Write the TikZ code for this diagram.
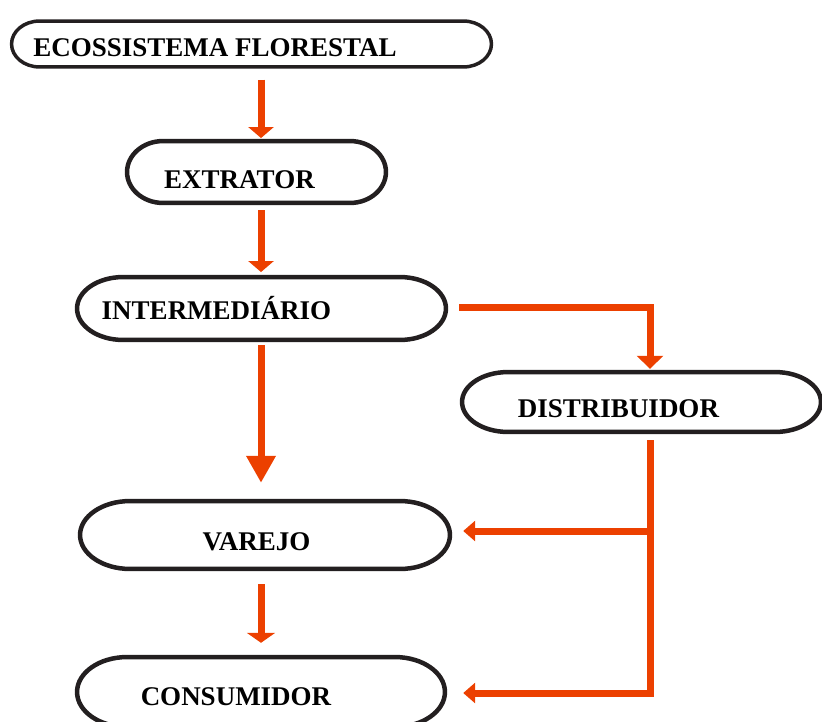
\documentclass[tikz,border=0pt]{standalone}
\usepackage{fontspec}
\setmainfont{Liberation Serif}
\usetikzlibrary{arrows.meta,calc}
\definecolor{flowc}{RGB}{236,64,0}
\definecolor{outc}{RGB}{35,31,32}
\tikzset{
  shapebox/.style={draw=none,inner sep=0pt,rectangle},
  label/.style={inner sep=0pt,anchor=base,font=\bfseries\fontsize{27}{27}\selectfont},
  outl/.style={draw=outc,line width=4.5pt,line join=round},
  flow/.style={draw=flowc,line width=7pt,line cap=butt,line join=miter},
  headS/.style={-{Triangle[length=11pt,width=25pt]}},
  headL/.style={-{Triangle[length=27pt,width=28pt]}},
}
\newcommand\capsuleoutline[3][]{%
  \draw[outl,#1] let \p1=(#2.north west), \p2=(#2.south east) in
   (\x1+#3pt,\y1) -- (\x2-#3pt,\y1)
   arc[start angle=90,end angle=-90,x radius=#3pt,y radius={(\y1-\y2)/2}]
   -- (\x1+#3pt,\y2)
   arc[start angle=270,end angle=90,x radius=#3pt,y radius={(\y1-\y2)/2}] -- cycle;}
\begin{document}
\begin{tikzpicture}[x=1pt,y=1pt]
\useasboundingbox (0,0) rectangle (822,-721);
% shape nodes
\node[shapebox,minimum width=479.5pt,minimum height=45.5pt] (eco) at (251.5,-44) {};
\node[shapebox,minimum width=258.5pt,minimum height=61.5pt] (ext) at (256.5,-172) {};
\node[shapebox,minimum width=368.5pt,minimum height=62.5pt] (int) at (261.5,-308.5) {};
\node[shapebox,minimum width=358.5pt,minimum height=59.5pt] (dis) at (641.5,-402) {};
\node[shapebox,minimum width=369.5pt,minimum height=67.5pt] (var) at (265,-535) {};
\node[shapebox,minimum width=367.5pt,minimum height=69.5pt] (con) at (261,-692) {};
% outlines
\capsuleoutline[line width=3.5pt]{eco}{28}
\capsuleoutline{ext}{36}
\capsuleoutline{int}{46}
\capsuleoutline{dis}{46}
\capsuleoutline{var}{50}
\capsuleoutline{con}{50}
% labels
\node[label] (t1) at (215,-56) {ECOSSISTEMA FLORESTAL};
\node[label] (t2) at (239.5,-188) {EXTRATOR};
\node[label] (t3) at (216.5,-319) {INTERMEDIÁRIO};
\node[label] (t4) at (618.5,-417) {DISTRIBUIDOR};
\node[label] (t5) at (256.5,-550) {VAREJO};
\node[label] (t6) at (236,-705) {CONSUMIDOR};
% columns
\coordinate (colA) at (261,0);
\coordinate (colB) at (650,0);
% connectors
\draw[flow,headS] ($(colA|-eco.south)+(0,-12.75)$) -- ($(colA|-ext.north)+(0,3)$);
\draw[flow,headS] ($(colA|-ext.south)+(0,-7.25)$) -- ($(colA|-int.north)+(0,5)$);
\draw[flow,headL] ($(colA|-int.south)+(0,-5.25)$) -- ($(colA|-var.north)+(0,18.25)$);
\draw[flow,-{Triangle[length=10pt,width=28pt]}] ($(colA|-var.south)+(0,-15.25)$) -- ($(colA|-con.north)+(0,14.25)$);
\draw[flow,-{Triangle[length=13pt,width=26pt]}] ($(int.east)+(13.25,1.5)$) -| ($(colB|-dis.north)+(0,3.25)$);
\draw[flow,-{Triangle[length=12pt,width=20pt]}] ($(colB|-dis.south)+(0,-8.25)$) |- ($(con.east)+(18.25,-1)$);
\draw[flow,-{Triangle[length=12pt,width=20pt]}] ($(colB|-var.east)+(0,4)$) -- ($(var.east)+(13.25,4)$);
\end{tikzpicture}
\end{document}
